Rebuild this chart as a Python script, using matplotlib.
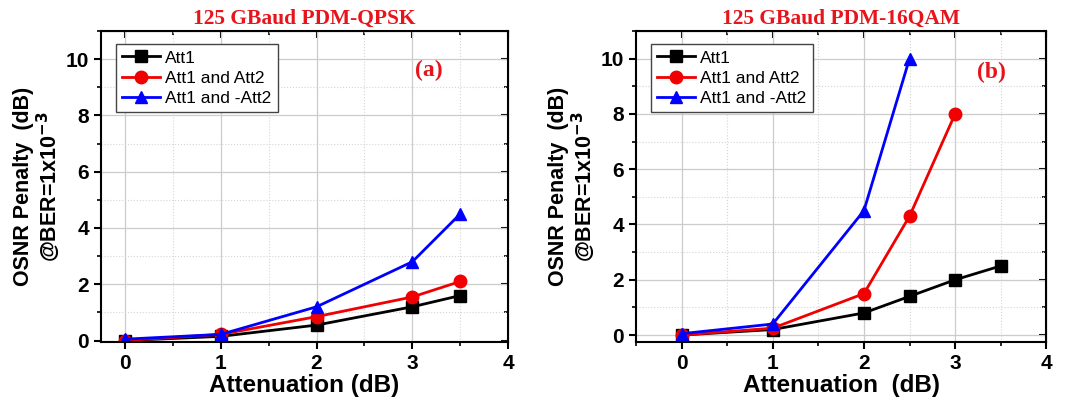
import matplotlib.pyplot as plt
from matplotlib.ticker import MultipleLocator

# panel (a): 125 GBaud PDM-QPSK
x_a = [0, 1, 2, 3, 3.5]
att1_a = [0.0, 0.15, 0.55, 1.2, 1.6]
att12_a = [0.0, 0.22, 0.85, 1.55, 2.1]
att1m2_a = [0.05, 0.22, 1.2, 2.8, 4.5]

# panel (b): 125 GBaud PDM-16QAM
x_b_att1 = [0, 1, 2, 2.5, 3, 3.5]
att1_b = [0.0, 0.2, 0.8, 1.4, 2.0, 2.5]
x_b_att12 = [0, 1, 2, 2.5, 3]
att12_b = [0.0, 0.25, 1.5, 4.3, 8.0]
x_b_att1m2 = [0, 1, 2, 2.5]
att1m2_b = [0.05, 0.4, 4.5, 10.0]

labels = ['Att1', 'Att1 and Att2', 'Att1 and -Att2']
titles = ['125 GBaud PDM-QPSK', '125 GBaud PDM-16QAM']

plt.rcParams['font.family'] = ['Liberation Sans', 'DejaVu Sans']

fig = plt.figure(figsize=(10.77, 4.05), dpi=100)
ax1 = fig.add_axes([0.0938, 0.1556, 0.378, 0.768])
ax2 = fig.add_axes([0.5905, 0.1556, 0.381, 0.768])


def style(ax, xmin, ymin, title, tag, tagx, tagy, xlab):
    ax.set_xlim(xmin, 4)
    ax.set_ylim(ymin, 11)
    ax.xaxis.set_major_locator(MultipleLocator(1))
    ax.xaxis.set_minor_locator(MultipleLocator(0.5))
    ax.yaxis.set_major_locator(MultipleLocator(2))
    ax.yaxis.set_minor_locator(MultipleLocator(1))
    ax.grid(which='major', color='#cccccc', lw=0.9)
    ax.grid(which='minor', color='#d5d5d5', lw=0.8, ls=':')
    ax.set_axisbelow(True)
    for s in ax.spines.values():
        s.set_linewidth(1.5)
    ax.tick_params(which='major', direction='out', length=5, width=1.5,
                   labelsize=15)
    ax.tick_params(which='minor', direction='out', length=3, width=1.2)
    for lab in ax.get_xticklabels() + ax.get_yticklabels():
        lab.set_fontweight('bold')
    # inward ticks on top and right
    top = ax.secondary_xaxis('top')
    top.xaxis.set_major_locator(MultipleLocator(1))
    top.xaxis.set_minor_locator(MultipleLocator(0.5))
    top.tick_params(which='major', direction='in', length=5, width=1.5, labeltop=False)
    top.tick_params(which='minor', direction='in', length=3, width=1.2)
    right = ax.secondary_yaxis('right')
    right.yaxis.set_major_locator(MultipleLocator(2))
    right.yaxis.set_minor_locator(MultipleLocator(1))
    right.tick_params(which='major', direction='in', length=5, width=1.5, labelright=False)
    right.tick_params(which='minor', direction='in', length=3, width=1.2)
    ax.set_title(title, color='#e8141b', fontsize=15.5, fontweight='bold',
                 family=['Liberation Serif', 'DejaVu Serif'], pad=5)
    ax.text(tagx, tagy, tag, color='#e8141b', fontsize=17, fontweight='bold',
            family=['Liberation Serif', 'DejaVu Serif'], ha='center', va='center')
    ax.set_xlabel(xlab, fontsize=17.5, fontweight='bold', labelpad=1)
    ax.set_ylabel('OSNR Penalty  (dB)\n@BER=1x10$^{\\mathbf{-3}}$', fontsize=15.5,
                  fontweight='bold', linespacing=1.0, labelpad=3)
    ax.legend(loc='upper left', fontsize=12.5, frameon=True, fancybox=False,
              edgecolor='#444444', framealpha=1, handlelength=2.2,
              handletextpad=0.3, borderpad=0.35, labelspacing=0.3,
              bbox_to_anchor=(0.015, 0.985))


ax1.plot(x_a, att1_a, 'k-s', lw=2, ms=8, label=labels[0])
ax1.plot(x_a, att12_a, '-o', color='#f00000', lw=2, ms=9, label=labels[1])
ax1.plot(x_a, att1m2_a, '-^', color='#0000ff', lw=2, ms=9, label=labels[2])
style(ax1, -0.25, -0.05, titles[0], '(a)', 3.17, 9.6, 'Attenuation (dB)')

ax2.plot(x_b_att1, att1_b, 'k-s', lw=2, ms=8, label=labels[0])
ax2.plot(x_b_att12, att12_b, '-o', color='#f00000', lw=2, ms=9, label=labels[1])
ax2.plot(x_b_att1m2, att1m2_b, '-^', color='#0000ff', lw=2, ms=9, label=labels[2])
style(ax2, -0.5, -0.25, titles[1], '(b)', 3.4, 9.5, 'Attenuation  (dB)')

fig.savefig('out.png', dpi=100)
